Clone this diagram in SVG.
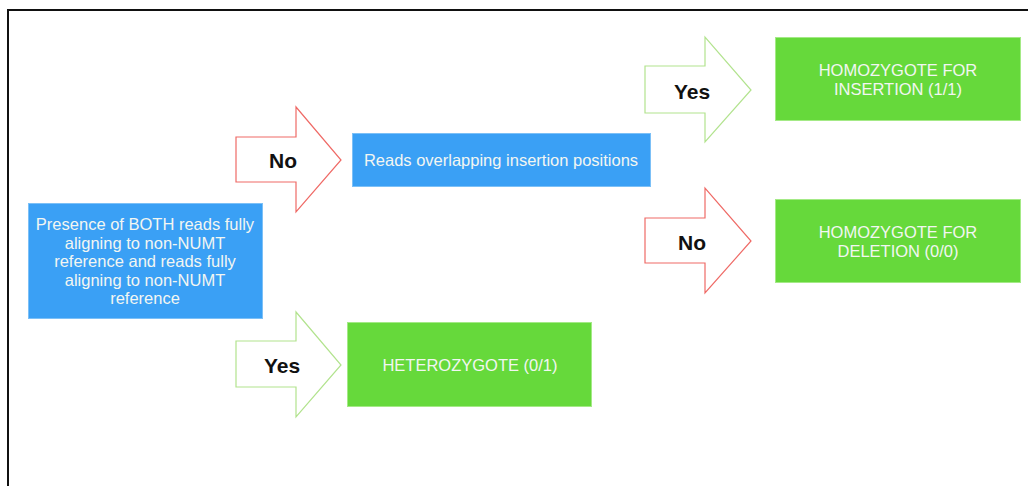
<svg xmlns="http://www.w3.org/2000/svg" width="1028" height="486" viewBox="0 0 1028 486">
  <style>
    .frame { fill: none; stroke: #111; stroke-width: 2; }
    .blue { fill: #3aa0f5; stroke: #7cc0f7; stroke-width: 1; }
    .green { fill: #66d93b; stroke: #a4ea86; stroke-width: 1; }
    .box-text { font-family: "Liberation Sans", Arial, sans-serif; font-size: 16.5px; fill: #f2f6f2; text-anchor: middle; dominant-baseline: central; }
    .arrow-no { fill: #fff; stroke: #ef6a66; stroke-width: 1.2; }
    .arrow-yes { fill: #fff; stroke: #b2e38e; stroke-width: 1.2; }
    .arrow-text { font-family: "Liberation Sans", Arial, sans-serif; font-size: 21px; font-weight: bold; fill: #111; text-anchor: middle; dominant-baseline: central; }
  </style>

  <!-- outer frame (top and left edges) -->
  <path class="frame" d="M8,486 V10 H1028"/>

  <!-- decision arrows -->
  <g id="connectors">
    <g id="arrow-no-1">
      <polygon class="arrow-no" points="236,137 296,137 296,107 341,160 296,212 296,182 236,182"/>
      <text class="arrow-text" x="283" y="160">No</text>
    </g>
    <g id="arrow-yes-1">
      <polygon class="arrow-yes" points="236,341 296,341 296,312 341,365 296,417 296,387 236,387"/>
      <text class="arrow-text" x="282" y="365">Yes</text>
    </g>
    <g id="arrow-yes-2">
      <polygon class="arrow-yes" points="645,66 705,66 705,37 751,90 705,142 705,113 645,113"/>
      <text class="arrow-text" x="692" y="91">Yes</text>
    </g>
    <g id="arrow-no-2">
      <polygon class="arrow-no" points="645,218 705,218 705,188 751,241 705,293 705,263 645,263"/>
      <text class="arrow-text" x="692" y="242">No</text>
    </g>
  </g>

  <!-- start condition -->
  <g id="node-presence">
    <rect class="blue" x="28.5" y="203.5" width="234" height="115"/>
    <text class="box-text" x="145" y="224">Presence of BOTH reads fully</text>
    <text class="box-text" x="145" y="242.5">aligning to non-NUMT</text>
    <text class="box-text" x="145" y="261">reference and reads fully</text>
    <text class="box-text" x="145" y="279.5">aligning to non-NUMT</text>
    <text class="box-text" x="145" y="298">reference</text>
  </g>

  <!-- second condition -->
  <g id="node-overlap">
    <rect class="blue" x="352.5" y="133.5" width="298" height="53"/>
    <text class="box-text" x="501" y="160">Reads overlapping insertion positions</text>
  </g>

  <!-- genotype outcomes -->
  <g id="node-hom-insertion">
    <rect class="green" x="775.5" y="37.5" width="245" height="83"/>
    <text class="box-text" x="898" y="70">HOMOZYGOTE FOR</text>
    <text class="box-text" x="898" y="89">INSERTION (1/1)</text>
  </g>

  <g id="node-hom-deletion">
    <rect class="green" x="775.5" y="199.5" width="245" height="83"/>
    <text class="box-text" x="898" y="232">HOMOZYGOTE FOR</text>
    <text class="box-text" x="898" y="251">DELETION (0/0)</text>
  </g>

  <g id="node-heterozygote">
    <rect class="green" x="347.5" y="322.5" width="244" height="84"/>
    <text class="box-text" x="470" y="365">HETEROZYGOTE (0/1)</text>
  </g>
</svg>
